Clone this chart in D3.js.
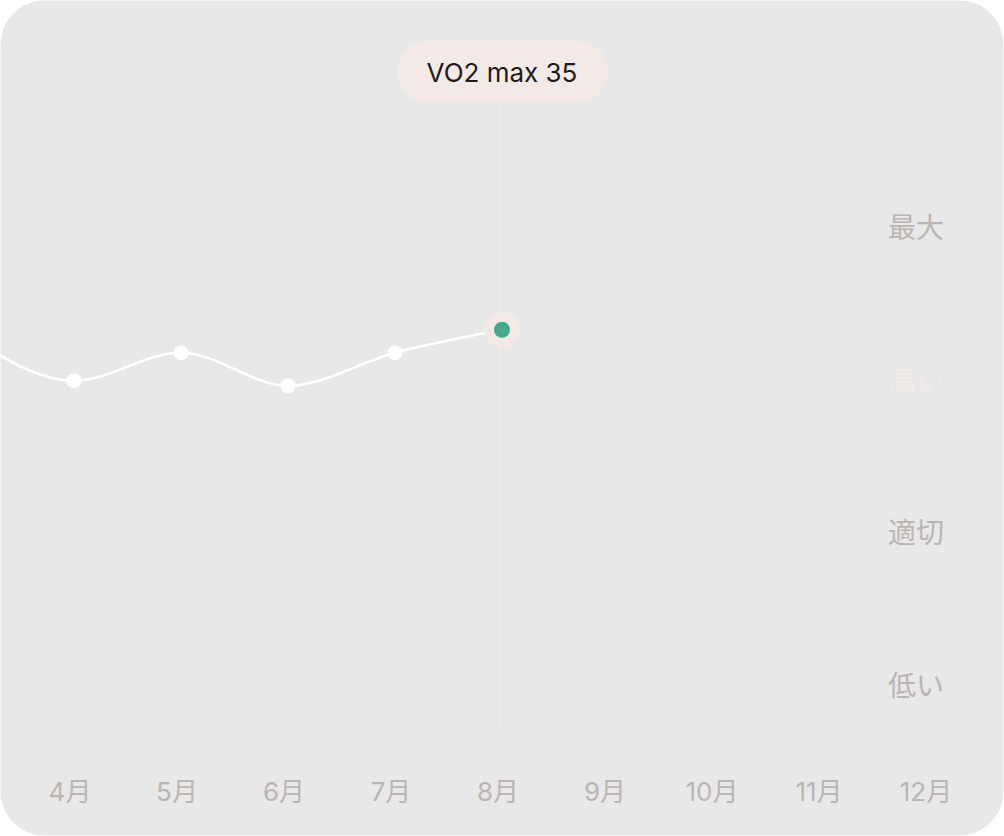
<!DOCTYPE html>
<html><head><meta charset="utf-8">
<script src="https://cdn.jsdelivr.net/npm/d3@7"></script>
<style>body{margin:0;background:#fff}</style>
</head><body><div id="chart-area"></div>
<script>
// data
var months = ["3月","4月","5月","6月","7月","8月","9月","10月","11月","12月"];
var values = [34.8, 33.0, 34.1, 32.8, 34.1, 35];
var levels = ["低い","適切","高い","最大"];
var levelValues = [21, 27, 33, 39];
var selected = 5;   // 8月
var highlightLevel = "高い";

var W = 1004, H = 836;
var svg = d3.select("#chart-area").append("svg")
    .attr("width", W).attr("height", H);

svg.append("rect").attr("x", 0.5).attr("y", 0.5).attr("width", W - 1).attr("height", H - 1)
    .attr("rx", 44).attr("fill", "#e8e8e8");

var x = d3.scalePoint().domain(months).range([-33, 930]);
var y = d3.scaleLinear().domain([21, 39]).range([686, 228]);

var font = "Inter, 'Noto Sans CJK JP', sans-serif";

// month labels
svg.selectAll(".mon").data(months.slice(1)).enter().append("text")
    .attr("x", d => x(d) - 4).attr("y", 801)
    .attr("text-anchor", "middle").attr("font-family", font).attr("font-size", 26)
    .attr("fill", "#bcb5b3").text(d => d);

// level labels
svg.selectAll(".lvl").data(levels).enter().append("text")
    .attr("x", 916).attr("y", (d, i) => y(levelValues[i]) + 10)
    .attr("text-anchor", "middle").attr("font-family", font).attr("font-size", 28)
    .attr("fill", d => d == highlightLevel ? "#f3e9e6" : "#bcb5b3").text(d => d);

// vertical marker line
var sx = x(months[selected]);
svg.append("line").attr("x1", sx - 2).attr("x2", sx - 2).attr("y1", 100).attr("y2", 732)
    .attr("stroke", "#f3e9e6").attr("stroke-width", 2);

// line
var line = d3.line().x((d, i) => x(months[i])).y(d => y(d)).curve(d3.curveMonotoneX);
svg.append("path").datum(values).attr("d", line)
    .attr("fill", "none").attr("stroke", "#fff").attr("stroke-width", 2.5);

svg.selectAll(".pt").data(values.slice(1, selected)).enter().append("circle")
    .attr("cx", (d, i) => x(months[i + 1])).attr("cy", d => y(d)).attr("r", 7.5).attr("fill", "#fff");

svg.append("circle").attr("cx", sx).attr("cy", y(values[selected])).attr("r", 18).attr("fill", "#f3e9e6");
svg.append("circle").attr("cx", sx).attr("cy", y(values[selected])).attr("r", 8).attr("fill", "#48a88e");

// tooltip
svg.append("rect").attr("x", sx - 105).attr("y", 41).attr("width", 211).attr("height", 61)
    .attr("rx", 30).attr("fill", "#f3e9e6");
svg.append("text").attr("x", sx).attr("y", 82).attr("text-anchor", "middle")
    .attr("font-family", font).attr("font-size", 26).attr("fill", "#1e1b1b")
    .text("VO2 max " + values[selected]);
</script></body></html>
